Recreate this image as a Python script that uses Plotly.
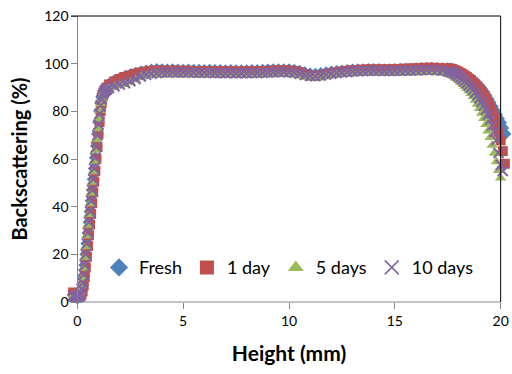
import plotly.graph_objects as go

# Height (mm) measurement positions
HEIGHT = [-0.2, -0.15, -0.1, -0.05, 0, 0.05, 0.1, 0.15, 0.2, 0.25, 0.3, 0.35, 0.4, 0.45, 0.5,
          0.55, 0.6, 0.65, 0.7, 0.75, 0.8, 0.85, 0.9, 0.95, 1.0, 1.05, 1.1, 1.15, 1.2, 1.25,
          1.3, 1.35, 1.4,
          1.5, 1.75, 2, 2.25, 2.5, 2.75, 3, 3.25, 3.5, 3.75, 4, 4.25, 4.5, 4.75, 5, 5.25, 5.5,
          5.75, 6, 6.25, 6.5, 6.75, 7, 7.25, 7.5, 7.75, 8, 8.25, 8.5, 8.75, 9, 9.25, 9.5, 9.75,
          10, 10.25, 10.5, 10.75, 11, 11.25, 11.5, 11.75, 12, 12.25, 12.5, 12.75, 13, 13.25,
          13.5, 13.75, 14, 14.25, 14.5, 14.75, 15, 15.25, 15.5, 15.75, 16, 16.25, 16.5, 16.75,
          17, 17.25,
          17.5, 17.6, 17.7, 17.8, 17.9, 18.0, 18.1, 18.2, 18.3, 18.4, 18.5, 18.6, 18.7, 18.8,
          18.9, 19.0, 19.1, 19.2, 19.3, 19.4, 19.5, 19.6, 19.7, 19.8, 19.9, 20.0, 20.1, 20.2]

FRESH = [3, 2.6, 2.2, 2, 1.9, 2, 2.4, 3.2, 4.8, 7.5, 11, 15.5, 20, 24.5, 29,
         33.5, 38, 42.5, 47, 51.5, 56, 60.5, 65.5, 70.5, 75.5, 80, 83.5, 86, 87.5, 88.5,
         89.2, 89.7, 90,
         91.5, 92.8, 93.8, 94.6, 95.3, 96, 96.5, 96.9, 97.3, 97.6, 97.4, 97.3, 97.4, 97.3, 97.2, 97.3, 97.2,
         97.2, 97.1, 97.2, 97.1, 97.1, 97.0, 97.1, 97.0, 97.0, 97.0, 97.1, 97.1, 97.2, 97.3, 97.4, 97.5, 97.5,
         97.4, 97.2, 96.8, 96.2, 95.7, 95.6, 95.9, 96.2, 96.5, 96.7, 96.9, 97.1, 97.3, 97.4,
         97.5, 97.6, 97.6, 97.6, 97.5, 97.5, 97.6, 97.7, 97.7, 97.8, 97.9, 98.0, 98.0, 98.1,
         98.0, 97.9,
         97.9, 97.8, 97.7, 97.5, 97.2, 96.8, 96.3, 95.8, 95.3, 94.8, 94.2, 93.6, 93.0, 92.2,
         91.4, 90.5, 89.4, 88.2, 86.8, 85.3, 83.7, 82.0, 80.3, 78.6, 76.9, 75.2, 73.0, 70.5]

DAY1 = [4, 3.5, 3, 2.6, 2.3, 2.1, 2.1, 2.4, 3.2, 4.5, 7, 10.5, 14.5, 19, 23.5,
        28, 32.5, 37, 41.5, 46, 50.5, 55, 60, 65, 70.5, 75.5, 80, 83.5, 86.5, 88,
        89, 89.6, 90,
        91.3, 92.6, 93.6, 94.4, 95.1, 95.8, 96.3, 96.7, 97.0, 97.1, 97.1, 97.0, 97.1, 97.0, 97.0, 97.0, 96.9,
        96.9, 96.8, 96.9, 96.8, 96.8, 96.7, 96.8, 96.7, 96.7, 96.7, 96.8, 96.8, 96.9, 97.0, 97.1, 97.2, 97.2,
        97.1, 96.9, 96.4, 95.6, 95.0, 94.8, 95.1, 95.6, 96.0, 96.4, 96.7, 97.0, 97.2, 97.4,
        97.5, 97.6, 97.6, 97.6, 97.6, 97.6, 97.7, 97.8, 97.9, 98.0, 98.1, 98.2, 98.3, 98.3,
        98.2, 98.1,
        98.0, 97.9, 97.7, 97.4, 97.0, 96.6, 96.1, 95.6, 95.0, 94.4, 93.7, 93.0, 92.2, 91.3,
        90.3, 89.2, 88.0, 86.6, 85.0, 83.3, 81.4, 79.3, 77.0, 74.4, 71.4, 67.8, 63.3, 58.0]

DAYS5 = [2.5, 2.2, 2, 1.9, 2, 2.4, 3.2, 4.6, 6.8, 10.2, 14.2, 18.7, 23.2, 27.7, 32.2,
         36.7, 41.2, 45.7, 50.2, 54.7, 59.2, 63.7, 68.2, 72.7, 76.8, 80.3, 83.3, 85.4, 86.9, 87.9,
         88.6, 89, 89.3,
         89.5, 90.2, 90.8, 91.4, 92.2, 93.3, 94.3, 94.9, 95.2, 95.3, 95.4, 95.4, 95.4, 95.3, 95.3, 95.3, 95.3,
         95.2, 95.2, 95.2, 95.1, 95.1, 95.1, 95.1, 95.0, 95.0, 95.0, 95.1, 95.1, 95.2, 95.3, 95.4, 95.5, 95.5,
         95.4, 95.2, 94.8, 94.3, 94.0, 94.0, 94.2, 94.6, 95.0, 95.3, 95.5, 95.7, 95.8, 95.9,
         96.0, 96.0, 96.0, 96.0, 95.9, 95.9, 96.0, 96.0, 96.1, 96.1, 96.2, 96.2, 96.3, 96.3,
         96.2, 96.0,
         95.8, 95.5, 95.1, 94.5, 93.8, 93.0, 92.2, 91.4, 90.5, 89.6, 88.6, 87.5, 86.2, 84.7,
         83.0, 81.2, 79.2, 77.0, 74.5, 71.8, 69.0, 65.8, 62.4, 58.8, 55.2, 52.0, None, None]

DAYS10 = [2.6, 2.3, 2.1, 2, 2, 2.2, 2.8, 3.8, 5.5, 8, 11.5, 15.5, 20, 24.5, 29,
          33.5, 38, 42.5, 47, 51.5, 56, 60.5, 65, 70, 74.5, 79, 82.5, 85, 86.8, 87.8,
          88.5, 89, 89.3,
          89.8, 90.5, 91.2, 91.8, 92.6, 93.6, 94.6, 95.3, 95.8, 96.1, 96.3, 96.3, 96.4, 96.3, 96.3, 96.3, 96.3,
          96.2, 96.2, 96.2, 96.1, 96.1, 96.0, 96.1, 96.0, 96.0, 96.0, 96.1, 96.1, 96.2, 96.3, 96.4, 96.5, 96.5,
          96.4, 96.2, 95.8, 95.2, 94.8, 94.7, 95.0, 95.4, 95.8, 96.1, 96.3, 96.5, 96.7, 96.8,
          96.9, 97.0, 97.0, 97.0, 96.9, 96.9, 97.0, 97.0, 97.1, 97.1, 97.2, 97.3, 97.3, 97.4,
          97.3, 97.1,
          96.8, 96.6, 96.3, 95.9, 95.4, 94.8, 94.1, 93.4, 92.6, 91.8, 90.9, 90.0, 89.0, 87.9,
          86.7, 85.4, 84.0, 82.4, 80.6, 78.6, 76.4, 74.0, 71.3, 68.0, 62.5, 57.5, 55.0, None]

SERIES = [
    ("Fresh", FRESH, "diamond", "#4F81BD"),
    ("1 day", DAY1, "square", "#C0504D"),
    ("5 days", DAYS5, "triangle-up", "#9BBB59"),
    ("10 days", DAYS10, "x-thin", "#8064A2"),
]

X_TICKS = [0, 5, 10, 15, 20]
Y_TICKS = [0, 20, 40, 60, 80, 100, 120]
X_AXIS_MIN, X_AXIS_MAX = 0, 20
X_VIEW = [-0.3, 20.3]   # a little room so the end points outside 0-20 stay visible
Y_RANGE = [0, 120]


def make_marker(sym, col, size, lw):
    if sym == "x-thin":
        return dict(symbol=sym, size=size, color=col, line=dict(width=lw, color=col))
    return dict(symbol=sym, size=size, color=col, line=dict(width=0))


fig = go.Figure()
for name, vals, sym, col in SERIES:
    fig.add_trace(go.Scatter(x=HEIGHT, y=vals, mode="markers", name=name,
                             marker=make_marker(sym, col, 10, 2), cliponaxis=False,
                             showlegend=False, legendgroup=name))
# legend entries with larger symbols, as in the original legend
for name, vals, sym, col in SERIES:
    fig.add_trace(go.Scatter(x=[None], y=[None], mode="markers", name=name,
                             marker=make_marker(sym, col, 14, 1.5),
                             showlegend=True, legendgroup=name))

FONT = "Lato, Carlito, Calibri, sans-serif"
axis_font = dict(family=FONT, size=14, color="#000000")
AX_GRAY = "#868686"
y_pos = (X_AXIS_MIN - X_VIEW[0]) / (X_VIEW[1] - X_VIEW[0])

fig.update_layout(
    width=512, height=374,
    margin=dict(l=71, r=5, t=16, b=72, autoexpand=False),
    paper_bgcolor="white", plot_bgcolor="white",
    font=dict(family=FONT, color="#000000"),
    showlegend=True,
    legend=dict(orientation="h", x=(289 - 71) / 436, xanchor="center", y=0.12, yanchor="middle",
                bgcolor="rgba(0,0,0,0)", font=dict(size=18), itemwidth=30,
                tracegroupgap=0),
    xaxis=dict(range=X_VIEW, tickvals=X_TICKS, ticks="outside", ticklen=6,
               tickcolor=AX_GRAY, showline=False,
               showgrid=False, zeroline=False, tickfont=axis_font, automargin=False,
               title=dict(text="<b>Height (mm)</b>", font=dict(size=21), standoff=18)),
    yaxis=dict(range=Y_RANGE, tickvals=Y_TICKS, ticks="outside", ticklen=6,
               tickcolor=AX_GRAY, showline=True, linecolor=AX_GRAY, linewidth=1,
               anchor="free", position=y_pos,
               showgrid=False, zeroline=False, tickfont=axis_font, automargin=False,
               title=dict(text="<b>Backscattering (%)</b>", font=dict(size=20), standoff=10)),
    shapes=[
        # bottom axis line over the 0-20 span
        dict(type="line", xref="x", yref="paper", x0=X_AXIS_MIN, x1=X_AXIS_MAX, y0=0, y1=0,
             line=dict(color=AX_GRAY, width=1)),
        # plot-area border (top and right)
        dict(type="line", xref="x", yref="paper", x0=X_VIEW[0], x1=X_AXIS_MAX, y0=1, y1=1,
             line=dict(color="black", width=1)),
        dict(type="line", xref="x", yref="paper", x0=X_AXIS_MAX, x1=X_AXIS_MAX, y0=0, y1=1,
             line=dict(color="black", width=1)),
    ],
)

fig.write_html("out.html")
